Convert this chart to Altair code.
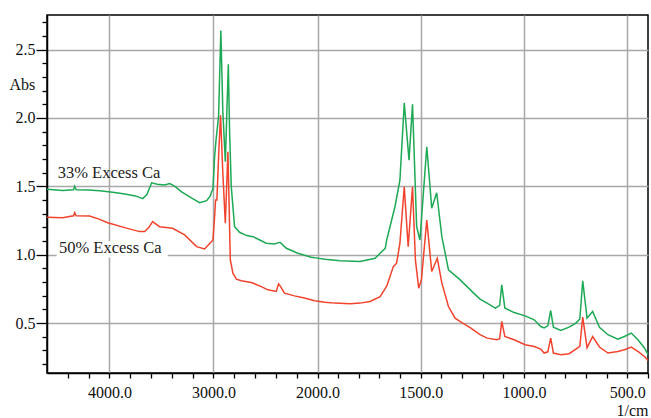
import altair as alt
import pandas as pd

# 33% Excess Ca (green)
wn_33 = [4600, 4450, 4345, 4334, 4320, 4200, 4093, 3950, 3853, 3750, 3680, 3640, 3594, 3540, 3470,
         3420, 3370, 3306, 3200, 3133, 3066, 3030, 3018, 3005, 2989, 2975, 2951, 2929, 2910, 2886,
         2857, 2845, 2829, 2797, 2749, 2680, 2621, 2493, 2411, 2370, 2355, 2300, 2189, 2061, 2003,
         1963, 1890, 1794, 1721, 1697, 1672, 1665, 1641, 1625, 1601, 1580, 1557, 1540, 1520, 1504,
         1471, 1447, 1423, 1398, 1366, 1309, 1244, 1213, 1179, 1139, 1118, 1108, 1093, 1048, 995,
         951, 919, 903, 885, 871, 858, 822, 782, 749, 730, 716, 695, 668, 635, 594, 546, 514, 481,
         449, 417, 400]
abs_33 = [1.478, 1.470, 1.475, 1.500, 1.475, 1.474, 1.468, 1.455, 1.444, 1.430, 1.410, 1.440, 1.526, 1.515, 1.510,
          1.520, 1.500, 1.460, 1.410, 1.380, 1.395, 1.430, 1.460, 1.480, 1.716, 1.840, 2.010, 2.640, 2.050, 1.680,
          2.393, 1.900, 1.500, 1.205, 1.164, 1.140, 1.132, 1.084, 1.079, 1.090, 1.088, 1.047, 1.011, 0.982, 0.975,
          0.967, 0.955, 0.950, 0.974, 1.011, 1.047, 1.108, 1.254, 1.351, 1.546, 2.110, 1.692, 2.100, 1.205, 1.108,
          1.790, 1.340, 1.453, 1.132, 0.889, 0.816, 0.719, 0.675, 0.646, 0.610, 0.630, 0.780, 0.610, 0.577, 0.553,
          0.524, 0.475, 0.464, 0.480, 0.592, 0.470, 0.446, 0.470, 0.500, 0.530, 0.809, 0.536, 0.585, 0.470, 0.415,
          0.383, 0.402, 0.427, 0.378, 0.318, 0.269]

# 50% Excess Ca (red)
wn_50 = [4600, 4450, 4345, 4334, 4320, 4190, 4100, 4016, 3853, 3710, 3662, 3620, 3585, 3518, 3393,
         3277, 3162, 3085, 3018, 3005, 2989, 2980, 2967, 2948, 2932, 2910, 2886, 2861, 2838, 2813,
         2780, 2732, 2636, 2540, 2477, 2397, 2374, 2355, 2317, 2221, 2125, 2029, 1965, 1916, 1842,
         1794, 1746, 1697, 1665, 1649, 1633, 1617, 1601, 1580, 1561, 1540, 1526, 1510, 1497, 1471,
         1447, 1420, 1398, 1366, 1334, 1309, 1261, 1213, 1179, 1131, 1118, 1108, 1093, 1048, 995,
         951, 919, 903, 885, 871, 858, 822, 782, 749, 730, 716, 695, 668, 635, 594, 546, 514, 481,
         449, 417, 400]
abs_50 = [1.274, 1.270, 1.285, 1.307, 1.285, 1.283, 1.260, 1.234, 1.198, 1.169, 1.169, 1.200, 1.242, 1.205, 1.193,
          1.145, 1.059, 1.042, 1.096, 1.108, 1.278, 1.400, 1.400, 1.765, 2.020, 1.600, 1.230, 1.753, 0.962, 0.865,
          0.821, 0.809, 0.797, 0.767, 0.743, 0.731, 0.787, 0.767, 0.719, 0.699, 0.683, 0.663, 0.653, 0.646, 0.641,
          0.646, 0.658, 0.694, 0.770, 0.840, 0.913, 0.938, 1.084, 1.497, 1.059, 1.497, 0.962, 0.755, 0.816, 1.254,
          0.877, 0.974, 0.792, 0.621, 0.536, 0.510, 0.467, 0.415, 0.390, 0.378, 0.385, 0.512, 0.402, 0.378, 0.342,
          0.329, 0.310, 0.281, 0.290, 0.390, 0.281, 0.269, 0.276, 0.310, 0.330, 0.544, 0.320, 0.402, 0.325, 0.281,
          0.293, 0.305, 0.325, 0.293, 0.256, 0.227]

x_major = [4000, 3000, 2000, 1500, 1000, 500]
x_ticks = [4400, 4200, 4000, 3800, 3600, 3400, 3200, 3000, 2800, 2600, 2400, 2200, 2000,
           1900, 1800, 1700, 1600, 1500, 1400, 1300, 1200, 1100, 1000, 900, 800, 700, 600, 500, 400]
y_ticks = [0.2, 0.3, 0.4, 0.5, 0.6, 0.7, 0.8, 0.9, 1.0, 1.1, 1.2, 1.3, 1.4, 1.5, 1.6, 1.7, 1.8, 1.9,
           2.0, 2.1, 2.2, 2.3, 2.4, 2.5, 2.6, 2.7]

label_text = ["33% Excess Ca", "50% Excess Ca"]
label_x = [4497, 4485]
label_y = [1.60, 1.052]

GREEN = "#1ea955"
RED = "#f1432d"
SERIF = "Liberation Serif"

df33 = pd.DataFrame({"wn": wn_33, "a": abs_33, "s": "33"})
df50 = pd.DataFrame({"wn": wn_50, "a": abs_50, "s": "50"})
dflab = pd.DataFrame({"t": label_text, "wn": label_x, "a": label_y})
dfbox = pd.DataFrame({"wn": [4507], "wn2": [3440], "a": [0.98], "a2": [1.10]})

xmaj = "(abs(datum.value - 4000) < 1 || abs(datum.value - 3000) < 1 || abs(datum.value - 2000) < 1 || abs(datum.value - 1500) < 1 || abs(datum.value - 1000) < 1 || abs(datum.value - 500) < 1)"
ymaj = "(abs(datum.value * 2 - round(datum.value * 2)) < 0.001)"

xscale = alt.Scale(domain=[4600, 2000, 400], range=[0, 270.5, 601], nice=False, zero=False)
yscale = alt.Scale(domain=[0.135, 2.753], nice=False, zero=False)

xaxis = alt.Axis(
    values=x_ticks,
    labelExpr=f"{xmaj} ? format(datum.value, '.1f') : ''",
    grid=True,
    gridColor="#a8a8a8",
    gridWidth=1.5,
    gridOpacity={"condition": {"test": xmaj, "value": 1}, "value": 0},
    tickSize=5, tickColor="black", tickWidth=1.3,
    domainColor="black", domainWidth=1.5,
    labelFont=SERIF, labelFontSize=16, labelColor="#111", labelPadding=6,
    labelOverlap=False, labelFlush=False,
    title="1/cm", titleFont=SERIF, titleFontSize=16, titleFontWeight="normal", titleColor="#111",
    titleX=601, titleY=37, titleAlign="right", titleBaseline="middle",
)
yaxis = alt.Axis(
    values=y_ticks,
    labelExpr=f"{ymaj} ? format(datum.value, '.1f') : ''",
    grid=True,
    gridColor="#a8a8a8",
    gridWidth=1.5,
    gridOpacity={"condition": {"test": ymaj, "value": 1}, "value": 0},
    tickSize={"condition": {"test": ymaj, "value": 11}, "value": 5},
    tickColor="black", tickWidth=1.3,
    domainColor="black", domainWidth=1.5,
    labelFont=SERIF, labelFontSize=16, labelColor="#111", labelPadding=1,
    labelOverlap=False, labelFlush=False,
    title="Abs", titleFont=SERIF, titleFontSize=16, titleFontWeight="normal", titleColor="#111",
    titleAngle=0, titleX=-38, titleY=69, titleAlign="left", titleBaseline="middle",
)

X = alt.X("wn:Q", scale=xscale, axis=xaxis)
Y = alt.Y("a:Q", scale=yscale, axis=yaxis)

box = alt.Chart(dfbox).mark_rect(color="white").encode(x=X, x2="wn2:Q", y=Y, y2="a2:Q")
line50 = alt.Chart(df50).mark_line(color=RED, strokeWidth=1.5).encode(x=X, y=Y)
line33 = alt.Chart(df33).mark_line(color=GREEN, strokeWidth=1.5).encode(x=X, y=Y)
labels = alt.Chart(dflab).mark_text(
    font=SERIF, fontSize=16.5, align="left", baseline="middle", color="#222"
).encode(x=X, y=Y, text="t:N")

chart = alt.layer(box, line50, line33, labels).properties(
    width=601, height=358,
    autosize=alt.AutoSizeParams(type="none"),
    padding={"left": 47, "top": 15, "right": 3, "bottom": 45},
).configure_view(stroke="black", strokeWidth=1.5)

chart.save("out.html", embed_options={"renderer": "svg", "actions": False})
